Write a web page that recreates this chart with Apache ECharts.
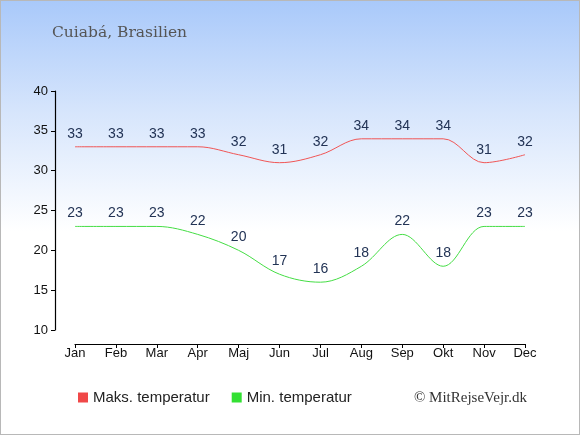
<!DOCTYPE html>
<html><head><meta charset="utf-8">
<script src="https://cdn.jsdelivr.net/npm/echarts@6/dist/echarts.min.js"></script>
<style>html,body{margin:0;padding:0;}#c{width:580px;height:435px;box-sizing:border-box;border:1px solid #b8b8b8;background:linear-gradient(to bottom,#a9c9fa 0%,#d6e5fc 110px,#ffffff 230px,#ffffff 100%);}</style>
</head><body><div id="c"></div>
<script>
const months = ['Jan','Feb','Mar','Apr','Maj','Jun','Jul','Aug','Sep','Okt','Nov','Dec'];
const maxTemp = [33,33,33,33,32,31,32,34,34,34,31,32];
const minTemp = [23,23,23,22,20,17,16,18,22,18,23,23];
const title = 'Cuiabá, Brasilien';
const chart = echarts.init(document.getElementById('c'), null, {renderer:'canvas'});
const lbl = {show:true, position:'top', distance:5, color:'#223355', fontSize:14, fontFamily:'Liberation Sans, Arial, sans-serif'};
chart.setOption({
  backgroundColor:'transparent',
  animation:false,
  title:{text:title, left:46, top:19, textStyle:{fontFamily:'DejaVu Serif, serif', fontSize:15.5, fontWeight:'normal', color:'#555555'}},
  legend:{bottom:24, left:72, itemWidth:10, itemHeight:10, itemGap:22, itemTextGap:6, icon:'rect',
    textStyle:{fontFamily:'Liberation Sans, Arial, sans-serif', fontSize:15, color:'#222'},
    data:[{name:'Maks. temperatur', itemStyle:{color:'#f04848', opacity:1}},
          {name:'Min. temperatur', itemStyle:{color:'#33e033', opacity:1}}]},
  graphic:[{type:'text', right:52, bottom:28, style:{text:'© MitRejseVejr.dk', font:'15px "Liberation Serif", serif', fill:'#333'}}],
  grid:{left:74, right:54, top:90, bottom:104},
  xAxis:{type:'category', data:months, boundaryGap:false, offset:14,
    axisLine:{lineStyle:{color:'#000', width:1.2}},
    axisTick:{show:true, length:4, lineStyle:{color:'#000'}},
    axisLabel:{color:'#111', fontSize:13, fontFamily:'Liberation Sans, Arial, sans-serif', margin:3}},
  yAxis:{type:'value', min:10, max:40, interval:5, offset:20,
    axisLine:{show:true, lineStyle:{color:'#000', width:1.2}},
    axisTick:{show:true, length:4, lineStyle:{color:'#000'}},
    splitLine:{show:false},
    axisLabel:{color:'#111', fontSize:13, fontFamily:'Liberation Sans, Arial, sans-serif', margin:7}},
  series:[
    {name:'Maks. temperatur', type:'line', data:maxTemp, smooth:0.35, symbol:'circle', symbolSize:2, showSymbol:true,
      itemStyle:{color:'rgba(0,0,0,0)', borderWidth:0},
      lineStyle:{width:1, color:'#f05555'}, label:lbl},
    {name:'Min. temperatur', type:'line', data:minTemp, smooth:0.35, symbol:'circle', symbolSize:2, showSymbol:true,
      itemStyle:{color:'rgba(0,0,0,0)', borderWidth:0},
      lineStyle:{width:1, color:'#44dd44'}, label:lbl}
  ]
});
</script></body></html>
